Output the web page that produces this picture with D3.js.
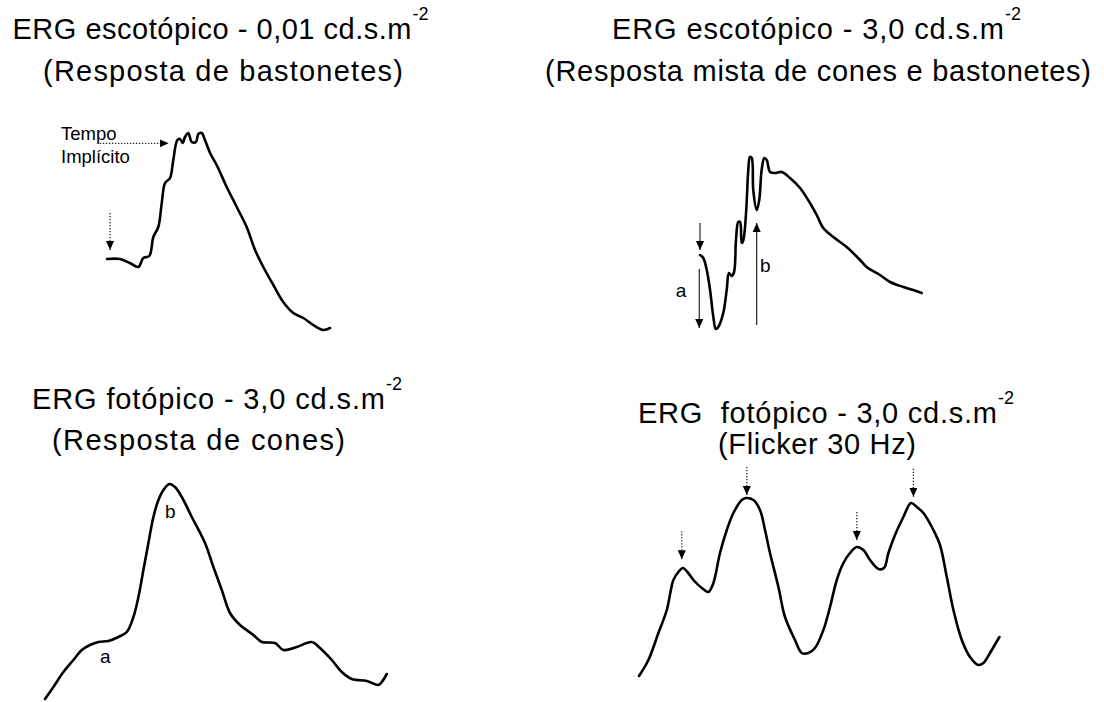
<!DOCTYPE html>
<html>
<head>
<meta charset="utf-8">
<script src="https://cdn.jsdelivr.net/npm/d3@7"></script>
<style>
  html, body { margin: 0; padding: 0; background: #fff; }
  svg { display: block; }
  text { font-family: "Liberation Sans", Arial, sans-serif; fill: #000; }
</style>
</head>
<body>
<svg id="chart" width="1104" height="702"></svg>
<script>
// ERG traces: time (ms, from stimulus) and amplitude (µV, relative to baseline)
const rodTime = [0, 8.7, 15.3, 20.9, 24.2, 28.2, 30.9, 34.2, 36.5, 38.7, 42, 44.2, 46.9, 48.7, 50.5, 52, 54.2, 56.5, 59.3, 60.9, 63.1, 65.3, 68.7, 73.1, 79.8, 86.5, 93.1, 98.7, 104.2, 110.9, 117.5, 124.2, 130.9, 137.5, 144.2, 148.7];
const rodAmp  = [0, 0, -4, -8, 1, 3, 22, 32, 56, 76, 81, 99, 119, 120, 116, 122, 126, 117, 117, 125, 126, 119, 106, 94, 72, 52, 32, 9, -8, -26, -43, -54, -59, -66, -71, -69];

const mixedTime = [0, 2.2, 4.5, 6.7, 8.9, 10.5, 12.2, 15.5, 17.8, 19.3, 21.1, 22.7, 24, 25.5, 26.7, 27.8, 28.9, 30.7, 32.2, 33.3, 34.5, 35.5, 37.8, 39.5, 41.1, 42.9, 44.5, 46.7, 50, 54.5, 60, 66.7, 73.3, 77.8, 82.2, 88.9, 97.8, 106.7, 111.1, 120, 126.7, 135.6, 142.2, 147.8];
const mixedAmp  = [0, -3, -15, -35, -62, -74, -72, -58, -35, -18, -21, -17, 15, 33, 33, 12, 15, 42, 85, 98, 97, 65, 45, 55, 85, 97, 95, 83, 82, 83, 77, 67, 52, 40, 27, 18, 8, -5, -12, -20, -27, -32, -35, -38];

const coneTime = [0, 4.2, 9.2, 14.2, 18.4, 22.5, 26.7, 31.7, 36.7, 40.9, 44.2, 46.7, 49.2, 51.7, 54.2, 56.7, 58.9, 62.2, 65, 68.4, 73.4, 80, 84.2, 88.4, 92.5, 97.5, 104.2, 108.4, 115, 119.2, 125.9, 133.4, 137.5, 143.4, 148.4, 153.4, 160.9, 166.7, 168.4, 170.9];
const coneAmp  = [-59, -47, -32, -20, -10, -5, -2, -1, 3, 8, 23, 43, 70, 97, 123, 140, 149, 156, 153, 143, 123, 97, 73, 50, 27, 15, 5, -2, -3, -10, -7, -2, -8, -20, -32, -39, -41, -45, -42, -34];

const flickerTime = [0, 4.7, 9.7, 13.9, 17.2, 19.7, 21.9, 24.2, 27.2, 31.4, 34.7, 37.2, 40.5, 43.9, 47.2, 51.4, 53.5, 57.2, 60.5, 63, 65.5, 69.7, 73, 78, 81.4, 84.7, 88, 92.2, 95.5, 98.9, 102.2, 105.5, 108.9, 112.2, 115.5, 119.7, 122.5, 124.7, 128, 132.2, 136, 138.9, 142.2, 147.2, 150.5, 153.9, 157.2, 161.4, 165.5, 169.7, 172.2, 175.5, 180.2];
const flickerAmp  = [-56, -40, -13, 10, 40, 48, 52, 48, 40, 32, 28, 37, 67, 90, 107, 120, 122, 120, 110, 90, 67, 33, 3, -20, -33, -33, -28, -10, 13, 40, 57, 67, 73, 70, 60, 51, 52, 67, 85, 103, 117, 113, 107, 90, 75, 43, 10, -20, -37, -45, -43, -33, -17];

// Peaks marked in the flicker response
const flickerPeakTime = [21.4, 53.9, 108.9, 137.2];
const flickerPeakAmp  = [60.7, 125, 80, 123.3];

const svg = d3.select("#chart");

// Filled arrowhead shared by every annotation arrow
svg.append("defs").append("marker")
  .attr("id", "head")
  .attr("viewBox", "0 0 10 10")
  .attr("refX", 10).attr("refY", 5)
  .attr("markerUnits", "userSpaceOnUse")
  .attr("markerWidth", 9).attr("markerHeight", 9)
  .attr("orient", "auto")
  .append("path").attr("d", "M0,0.5 L10,5 L0,9.5 Z").attr("fill", "#000");

function zip(t, v) { return t.map((d, i) => [d, v[i]]); }

function drawTrace(g, x, y, t, v) {
  const line = d3.line().x(d => x(d[0])).y(d => y(d[1])).curve(d3.curveCatmullRom.alpha(0.5));
  g.append("path").datum(zip(t, v))
    .attr("d", line)
    .attr("fill", "none")
    .attr("stroke", "#000")
    .attr("stroke-width", 2.6)
    .attr("stroke-linejoin", "round")
    .attr("stroke-linecap", "round");
}

function arrow(g, x1, y1, x2, y2, dotted) {
  g.append("line")
    .attr("x1", x1).attr("y1", y1).attr("x2", x2).attr("y2", y2)
    .attr("stroke", dotted ? "#222" : "#111")
    .attr("stroke-width", dotted ? 1.3 : 1.1)
    .attr("stroke-dasharray", dotted ? "1.3,1.7" : null)
    .attr("marker-end", "url(#head)");
}

// Title lines: each line is stretched to its set width; a unit exponent follows as superscript
function title(lines) {
  lines.forEach(l => {
    svg.append("text")
      .attr("x", l.x).attr("y", l.y)
      .attr("font-size", 29)
      .attr("textLength", l.w)
      .attr("lengthAdjust", "spacing")
      .style("white-space", "pre")
      .text(l.text);
    if (l.sup) {
      svg.append("text")
        .attr("x", l.x + l.w + 1).attr("y", l.y - 19)
        .attr("font-size", 18)
        .text(l.sup);
    }
  });
}

// --- Scotopic 0.01: rod response ---
{
  const x = d3.scaleLinear().domain([0, 150]).range([107, 332]);
  const y = d3.scaleLinear().domain([0, 100]).range([259, 159]);
  const g = svg.append("g");
  title([
    { x: 12.5, y: 39, w: 399, text: "ERG escotópico - 0,01 cd.s.m", sup: "-2" },
    { x: 43, y: 81, w: 360, text: "(Resposta de bastonetes)" }
  ]);
  drawTrace(g, x, y, rodTime, rodAmp);
  // stimulus onset
  arrow(g, x(2), y(46), x(2), y(9), true);
  // implicit time marker
  arrow(g, x(-4.7), y(115.7), x(41), y(115.7), true);
  g.append("text").attr("x", 61).attr("y", 140).attr("font-size", 18.5).text("Tempo");
  g.append("text").attr("x", 61).attr("y", 163).attr("font-size", 18.5).text("Implícito");
}

// --- Scotopic 3.0: mixed cone-rod response ---
{
  const x = d3.scaleLinear().domain([0, 150]).range([700, 925]);
  const y = d3.scaleLinear().domain([0, 100]).range([255, 155]);
  const g = svg.append("g");
  title([
    { x: 612, y: 39, w: 392, text: "ERG escotópico - 3,0 cd.s.m", sup: "-2" },
    { x: 545, y: 81, w: 546, text: "(Resposta mista de cones e bastonetes)" }
  ]);
  drawTrace(g, x, y, mixedTime, mixedAmp);
  arrow(g, x(0), y(32), x(0), y(5), false);
  arrow(g, x(-0.5), y(-14), x(-0.5), y(-73), false);
  arrow(g, x(37.8), y(-70), x(37.8), y(32), false);
  g.append("text").attr("x", x(-12.7)).attr("y", y(-42)).attr("text-anchor", "middle").attr("font-size", 19).text("a");
  g.append("text").attr("x", x(40)).attr("y", y(-17)).attr("font-size", 19).text("b");
}

// --- Photopic 3.0: cone response ---
{
  const x = d3.scaleLinear().domain([0, 170]).range([45, 385]);
  const y = d3.scaleLinear().domain([0, 100]).range([640, 540]);
  const g = svg.append("g");
  title([
    { x: 32, y: 409, w: 353, text: "ERG fotópico - 3,0 cd.s.m", sup: "-2" },
    { x: 52, y: 450, w: 293, text: "(Resposta de cones)" }
  ]);
  drawTrace(g, x, y, coneTime, coneAmp);
  g.append("text").attr("x", x(60)).attr("y", y(122)).attr("font-size", 19).text("b");
  g.append("text").attr("x", x(27.5)).attr("y", y(-23)).attr("font-size", 19).text("a");
}

// --- Photopic 3.0: 30 Hz flicker ---
{
  const x = d3.scaleLinear().domain([0, 180]).range([639, 999]);
  const y = d3.scaleLinear().domain([0, 100]).range([620, 520]);
  const g = svg.append("g");
  title([
    { x: 638, y: 423, w: 359, text: "ERG  fotópico - 3,0 cd.s.m", sup: "-2" },
    { x: 718, y: 454, w: 198, text: "(Flicker 30 Hz)" }
  ]);
  drawTrace(g, x, y, flickerTime, flickerAmp);
  flickerPeakTime.forEach((t, i) => {
    const tipY = y(flickerPeakAmp[i]);
    arrow(g, x(t), tipY - 28, x(t), tipY, true);
  });
}
</script>
</body>
</html>
